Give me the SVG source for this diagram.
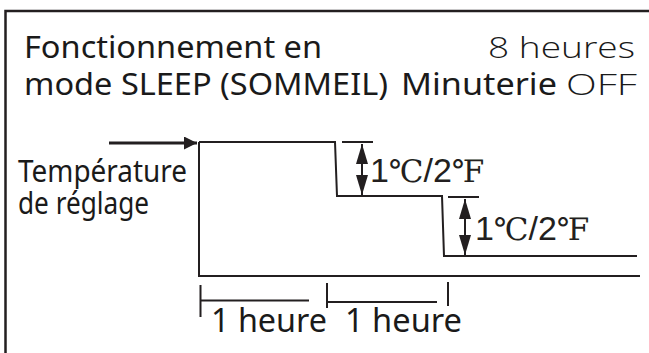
<svg xmlns="http://www.w3.org/2000/svg" width="649" height="353" viewBox="0 0 649 353">
<defs>
<style>
.ln{fill:none;stroke:#231f20;stroke-width:2}
.fr{fill:none;stroke:#231f20;stroke-width:2.5}
.t{font-family:"Noto Sans","Open Sans",sans-serif;fill:#1a1a1a}
.lt{font-family:"Open Sans","Noto Sans",sans-serif;font-weight:300;fill:#1a1a1a}
.d{font-family:"Liberation Sans",Arial,sans-serif;font-size:34px;fill:#231f20}
.s{font-family:"DejaVu Serif","Liberation Serif","Noto Sans CJK SC",serif;font-size:31px;font-weight:300;fill:#231f20}
</style>
<marker id="ah" viewBox="0 0 10 10" refX="10" refY="5" markerWidth="13" markerHeight="13" markerUnits="userSpaceOnUse" orient="auto-start-reverse">
<path d="M0,0 L10,5 L0,10 Z" fill="#231f20"/>
</marker>
<marker id="ad" viewBox="0 0 10 10" refX="10" refY="5" markerWidth="20" markerHeight="20" markerUnits="userSpaceOnUse" orient="auto-start-reverse">
<path d="M0,2 L10,5 L0,8 Z" fill="#231f20"/>
</marker>
</defs>
<rect width="649" height="353" fill="#fff"/>
<g id="frame">
<path class="fr" d="M5.5,353 V11 H649"/>
</g>
<g id="title">
<text class="t" x="24" y="58" font-size="30" textLength="298" lengthAdjust="spacingAndGlyphs">Fonctionnement en</text>
<text class="t" x="24" y="95" font-size="30" textLength="364" lengthAdjust="spacingAndGlyphs">mode SLEEP (SOMMEIL)</text>
<text class="lt" x="488" y="58" font-size="30" textLength="147" lengthAdjust="spacingAndGlyphs">8 heures</text>
<text class="t" x="401" y="95" font-size="30" textLength="156" lengthAdjust="spacingAndGlyphs">Minuterie</text>
<text class="lt" x="566" y="95" font-size="30" textLength="71" lengthAdjust="spacingAndGlyphs">OFF</text>
</g>
<g id="setpoint-label">
<text class="t" x="18" y="182" font-size="30" textLength="169" lengthAdjust="spacingAndGlyphs">Température</text>
<text class="t" x="18" y="214" font-size="30" textLength="131" lengthAdjust="spacingAndGlyphs">de réglage</text>
</g>
<g id="connectors">
<line x1="109" y1="143" x2="197" y2="143" stroke="#231f20" stroke-width="3" marker-end="url(#ah)"/>
<path class="ln" d="M199,142 H335 L337,196 H442 L444,256 H637"/>
<path class="ln" d="M199,142 V276 H640"/>
<line class="ln" x1="342" y1="142" x2="373" y2="142"/>
<line x1="362" y1="144" x2="362" y2="195" stroke="#231f20" stroke-width="2" marker-start="url(#ad)" marker-end="url(#ad)"/>
<line class="ln" x1="448" y1="197" x2="479" y2="197"/>
<line x1="465" y1="199" x2="465" y2="255" stroke="#231f20" stroke-width="2" marker-start="url(#ad)" marker-end="url(#ad)"/>
<path class="ln" d="M200.5,285 V317 M200,300.5 H309"/>
<path class="ln" d="M327,283 V308 M327,302 H437 M448,282 V306"/>
</g>
<g id="dim1">
<text x="370" y="182"><tspan class="d">1</tspan><tspan class="s">℃</tspan><tspan class="d">/2</tspan><tspan class="s">℉</tspan></text>
</g>
<g id="dim2">
<text x="475" y="240"><tspan class="d">1</tspan><tspan class="s">℃</tspan><tspan class="d">/2</tspan><tspan class="s">℉</tspan></text>
</g>
<g id="hours">
<text class="t" x="211" y="332" font-size="32" textLength="116" lengthAdjust="spacingAndGlyphs">1 heure</text>
<text class="t" x="345" y="332" font-size="32" textLength="117" lengthAdjust="spacingAndGlyphs">1 heure</text>
</g>
</svg>
